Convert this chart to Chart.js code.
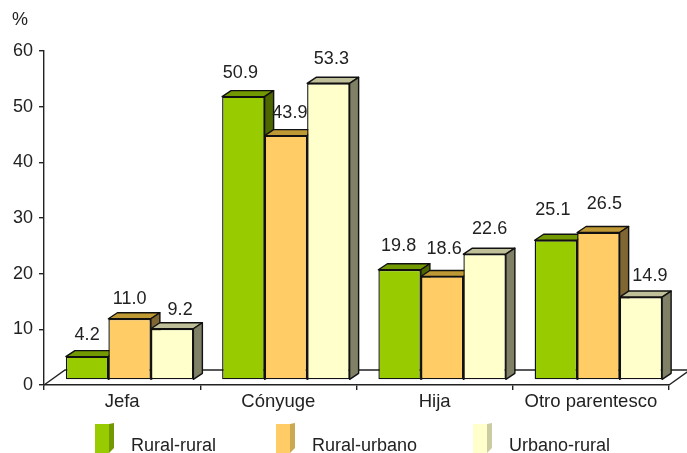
<!DOCTYPE html>
<html>
<head>
<meta charset="utf-8">
<style>
  html, body { margin:0; padding:0; background:#fff; overflow:hidden; }
  #wrap { width:687px; height:453px; }
</style>
<script src="https://cdn.jsdelivr.net/npm/chart.js@4/dist/chart.umd.min.js"></script>
</head>
<body>
<div id="wrap"><canvas id="chart" width="687" height="453"></canvas></div>
<script>
const categories = ['Jefa', 'Cónyuge', 'Hija', 'Otro parentesco'];
const seriesNames = ['Rural-rural', 'Rural-urbano', 'Urbano-rural'];
const ruralRural = [4.2, 50.9, 19.8, 25.1];
const ruralUrbano = [11.0, 43.9, 18.6, 26.5];
const urbanoRural = [9.2, 53.3, 22.6, 14.9];
const yTicks = [0, 10, 20, 30, 40, 50, 60];

const FONT = '"Liberation Sans", Arial, sans-serif';
const TEXT = '#222';
const LINE = '#222';
const front = ['#99cc00', '#ffcc66', '#ffffcc'];
const topFace = ['#739900', '#bf9933', '#bfbf99'];
const sideFace = ['#4d6600', '#806633', '#808066'];
const legendSide = ['#739900', '#cca852', '#cccca3'];

// bars sit on a floor drawn in fake perspective
const BAR_SHIFT = { x: 7.5, y: -5 };
const DEPTH = { x: 9, y: 6 };
const FLOOR = { x: 21, y: 15 };

// hand placed value labels in the original: nudge from the default spot
const labelNudge = [
  [[0, 2], [0, 4], [8, 5]],
  [[-3, 0], [4, 1], [3, 0]],
  [[-1, 0], [2, -3], [5, -1]],
  [[-3, -6], [6, -4], [9, 3]]
];

function poly(ctx, pts, fill, stroke){
  ctx.beginPath();
  pts.forEach((p, i) => i ? ctx.lineTo(p[0], p[1]) : ctx.moveTo(p[0], p[1]));
  ctx.closePath();
  ctx.fillStyle = fill;
  ctx.fill();
  if (stroke){
    ctx.strokeStyle = stroke;
    ctx.lineWidth = 1.4;
    ctx.lineJoin = 'round';
    ctx.stroke();
  }
}

const floor3d = {
  id: 'floor3d',
  beforeDatasetsDraw(chart){
    const { ctx, chartArea: a } = chart;
    ctx.save();
    ctx.strokeStyle = LINE;
    ctx.lineWidth = 1.4;
    ctx.beginPath();
    ctx.moveTo(a.left, a.bottom);
    ctx.lineTo(a.left + FLOOR.x, a.bottom - FLOOR.y);
    ctx.lineTo(a.right + FLOOR.x, a.bottom - FLOOR.y);
    ctx.lineTo(a.right, a.bottom);
    ctx.stroke();
    ctx.restore();

    // left to right, so each bar covers the side of the one before it
    ctx.save();
    ctx.translate(BAR_SHIFT.x, BAR_SHIFT.y);
    chart.data.datasets.forEach((ds, i) => {
      const meta = chart.getDatasetMeta(i);
      meta.data.forEach(bar => {
        const l = bar.x - bar.width / 2, r = bar.x + bar.width / 2;
        const t = bar.y, b = bar.base;
        poly(ctx, [[l, t], [l + DEPTH.x, t - DEPTH.y], [r + DEPTH.x, t - DEPTH.y], [r, t]], topFace[i], '#111');
        poly(ctx, [[r, t], [r + DEPTH.x, t - DEPTH.y], [r + DEPTH.x, b - DEPTH.y], [r, b]], sideFace[i], '#111');
      });
      meta.controller.draw();
    });
    ctx.fillStyle = TEXT;
    ctx.font = '18px ' + FONT;
    ctx.textAlign = 'center';
    ctx.textBaseline = 'middle';
    chart.data.datasets.forEach((ds, i) => {
      chart.getDatasetMeta(i).data.forEach((bar, j) => {
        const n = labelNudge[j][i];
        ctx.fillText(ds.data[j].toFixed(1), bar.x + n[0], bar.y - 24 + n[1]);
      });
    });
    ctx.restore();
  },
  beforeDatasetDraw(){
    return false; // already drawn above
  }
};

const extras = {
  id: 'extras',
  afterDraw(chart){
    const { ctx } = chart;
    ctx.save();
    ctx.fillStyle = TEXT;
    ctx.font = '18px ' + FONT;
    ctx.textBaseline = 'middle';
    ctx.textAlign = 'left';
    ctx.fillText('%', 12, 20);
    const swatchX = [95, 276, 473], textX = [131, 312, 509];
    seriesNames.forEach((name, i) => {
      const x = swatchX[i];
      poly(ctx, [[x, 424], [x + 14, 424], [x + 14, 453], [x, 453]], front[i]);
      poly(ctx, [[x + 14, 424], [x + 19, 423], [x + 19, 448], [x + 14, 453]], legendSide[i]);
      ctx.fillStyle = TEXT;
      ctx.fillText(name, textX[i], 446);
    });
    ctx.restore();
  }
};

new Chart(document.getElementById('chart'), {
  type: 'bar',
  data: {
    labels: categories,
    datasets: [ruralRural, ruralUrbano, urbanoRural].map((values, i) => ({
      label: seriesNames[i],
      data: values,
      clip: false,
      backgroundColor: front[i],
      borderColor: '#111',
      borderWidth: 1.4,
      borderSkipped: false,
      barPercentage: 1,
      categoryPercentage: 0.816
    }))
  },
  options: {
    responsive: false,
    animation: false,
    layout: { padding: { top: 51, right: 18, left: 0, bottom: 0 } },
    plugins: { legend: { display: false }, title: { display: false }, tooltip: { enabled: false } },
    scales: {
      x: {
        afterFit(s){ s.height = 68; },
        grid: { drawOnChartArea: false, tickLength: 5, color: LINE, lineWidth: 1.4, offset: true },
        border: { color: LINE, width: 1.4 },
        ticks: { color: TEXT, font: { family: FONT, size: 18.5 }, padding: 1, maxRotation: 0, autoSkip: false }
      },
      y: {
        min: 0,
        max: 60,
        afterFit(s){ s.width = 44; },
        afterBuildTicks(s){ s.ticks = yTicks.map(v => ({ value: v })); },
        grid: { drawOnChartArea: false, tickLength: 5, color: LINE, lineWidth: 1.4 },
        border: { color: LINE, width: 1.4 },
        ticks: { color: TEXT, font: { family: FONT, size: 18 }, padding: 6 }
      }
    }
  },
  plugins: [floor3d, extras]
});
</script>
</body>
</html>
